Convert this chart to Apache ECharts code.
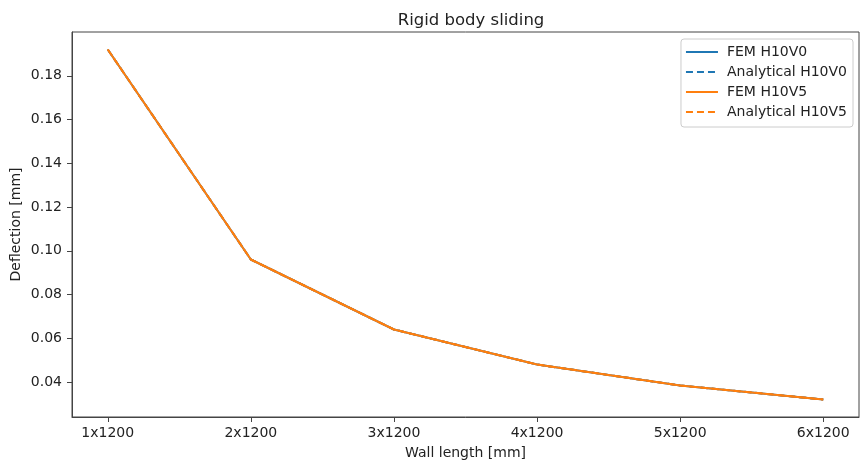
<!DOCTYPE html>
<html>
<head>
<meta charset="utf-8">
<script src="https://cdn.jsdelivr.net/npm/echarts@6/dist/echarts.min.js"></script>
<style>
    html, body { margin: 0; padding: 0; background: #fff; }
    #chart { width: 861px; height: 467px; }
</style>
</head>
<body>
<div id="chart"></div>
<script>
// wall lengths on the x axis
var categories = ['1x1200', '2x1200', '3x1200', '4x1200', '5x1200', '6x1200'];
// deflection [mm]
var femH10V0 = [0.192, 0.096, 0.064, 0.048, 0.0384, 0.032];
var anaH10V0 = [0.192, 0.096, 0.064, 0.048, 0.0384, 0.032];
var femH10V5 = [0.192, 0.096, 0.064, 0.048, 0.0384, 0.032];
var anaH10V5 = [0.192, 0.096, 0.064, 0.048, 0.0384, 0.032];
var yTicks = [0.04, 0.06, 0.08, 0.10, 0.12, 0.14, 0.16, 0.18];

window.onload = function () {
    var font = 'DejaVu Sans';
    var xPos = categories.map(function (c, i) { return i + 1; });

    function toPairs(arr) {
        return arr.map(function (v, i) { return [xPos[i], v]; });
    }

    function lineSeries(name, data, color, dashed) {
        return {
            name: name,
            type: 'line',
            data: toPairs(data),
            symbol: 'none',
            showSymbol: false,
            lineStyle: {
                color: color,
                width: 2,
                type: dashed ? [7, 4] : 'solid'
            },
            itemStyle: { color: color },
            animation: false
        };
    }

    var chart = echarts.init(document.getElementById('chart'));
    var option = {
        backgroundColor: '#fff',
        animation: false,
        textStyle: { fontFamily: font },
        title: {
            text: 'Rigid body sliding',
            left: 466,
            top: 7,
            textAlign: 'center',
            textStyle: { fontFamily: font, fontSize: 16.5, fontWeight: 'normal', color: '#222' }
        },
        grid: {
            left: 72,
            right: 2,
            top: 32,
            bottom: 50,
            outerBoundsMode: 'none',
            containLabel: false,
            show: true,
            borderColor: '#444',
            borderWidth: 1,
            backgroundColor: '#fff'
        },
        legend: {
            right: 8,
            top: 39,
            orient: 'vertical',
            itemWidth: 32,
            itemHeight: 14,
            itemGap: 6,
            padding: [6, 6, 8, 4],
            borderColor: '#ccc',
            borderWidth: 1,
            borderRadius: 3,
            backgroundColor: 'rgba(255,255,255,0.8)',
            itemStyle: { opacity: 0 },
            textStyle: { fontFamily: font, fontSize: 14, color: '#222', padding: [0, 0, 0, 4] },
            data: ['FEM H10V0', 'Analytical H10V0', 'FEM H10V5', 'Analytical H10V5']
        },
        xAxis: {
            type: 'value',
            min: 0.75,
            max: 6.25,
            name: 'Wall length [mm]',
            nameLocation: 'middle',
            nameGap: 29,
            nameMoveOverlap: false,
            nameTextStyle: { fontFamily: font, fontSize: 14, color: '#222' },
            axisLine: { show: true, lineStyle: { color: '#444' } },
            axisTick: { show: true, length: 5, inside: false, customValues: xPos, lineStyle: { color: '#444' } },
            axisLabel: {
                customValues: xPos,
                margin: 9,
                fontFamily: font,
                fontSize: 14,
                color: '#222',
                formatter: function (v) { return categories[Math.round(v) - 1]; }
            },
            splitLine: { show: false }
        },
        yAxis: {
            type: 'value',
            min: 0.024,
            max: 0.2,
            name: 'Deflection [mm]',
            nameLocation: 'middle',
            nameGap: 49,
            nameMoveOverlap: false,
            nameTextStyle: { fontFamily: font, fontSize: 14, color: '#222' },
            axisLine: { show: true, lineStyle: { color: '#444' } },
            axisTick: { show: true, length: 5, customValues: yTicks, lineStyle: { color: '#444' } },
            axisLabel: {
                customValues: yTicks,
                margin: 10,
                fontFamily: font,
                fontSize: 14,
                color: '#222',
                formatter: function (v) { return v.toFixed(2); }
            },
            splitLine: { show: false }
        },
        series: [
            lineSeries('FEM H10V0', femH10V0, '#1f77b4', false),
            lineSeries('Analytical H10V0', anaH10V0, '#1f77b4', true),
            lineSeries('FEM H10V5', femH10V5, '#ff7f0e', false),
            lineSeries('Analytical H10V5', anaH10V5, '#ff7f0e', true)
        ]
    };
    chart.setOption(option);
};
</script>
</body>
</html>
